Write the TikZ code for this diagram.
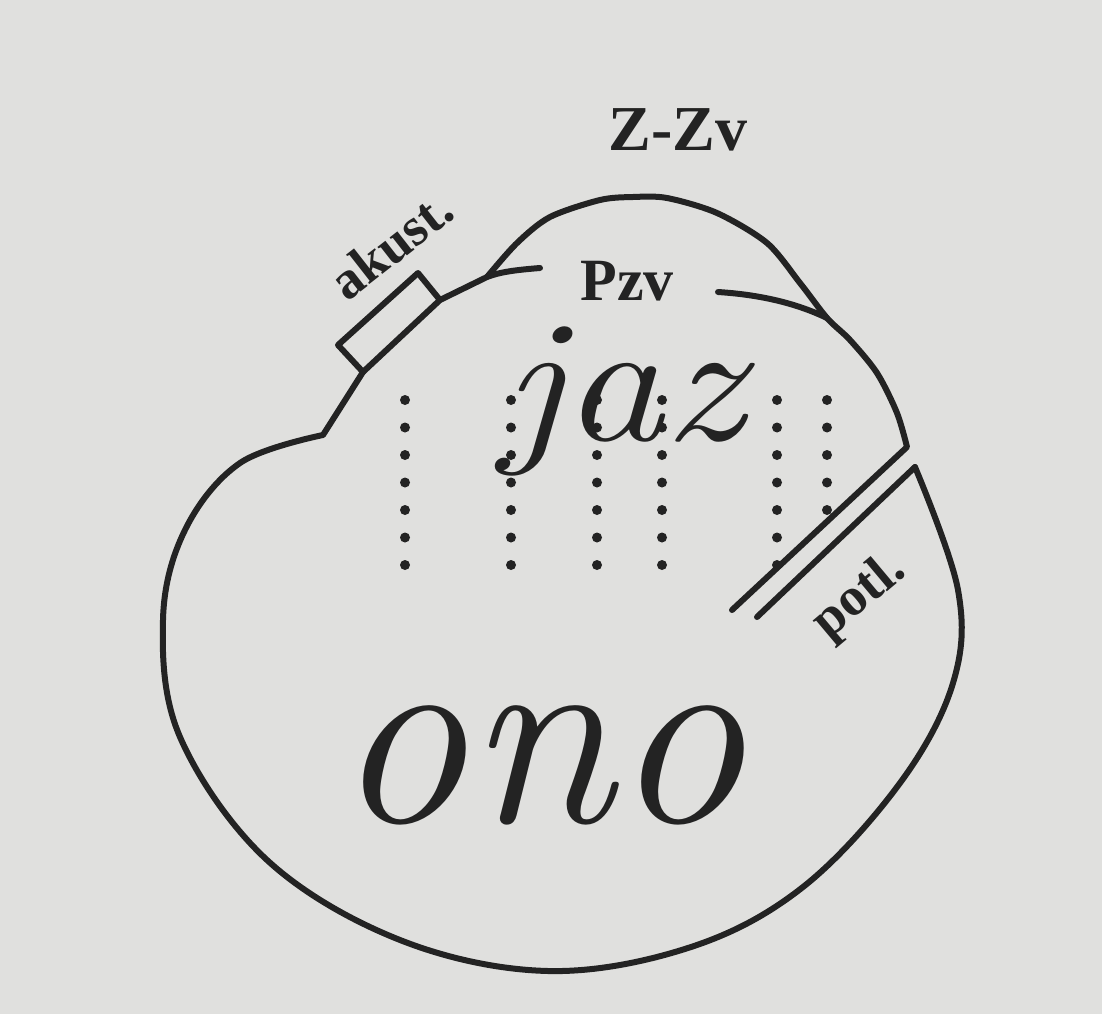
\documentclass[tikz,border=0pt]{standalone}
\usepackage{graphicx}
\usepackage{xcolor}
\usepackage{fontspec}
\newfontfamily\lblfont{Liberation Serif}
\usetikzlibrary{math}
\definecolor{myink}{RGB}{35,35,35}
\definecolor{mypaper}{RGB}{224,224,222}

\begin{document}
\begin{tikzpicture}[x=1pt,y=-1pt,line width=6pt,line cap=round,line join=round,color=myink,
  lbl/.style={inner sep=0pt,font=\lblfont\bfseries\fontsize{54}{54}\selectfont}]
\tikzmath{
\dotr=5;
\dotdy=27.5;
\dotyo=400;
}
\fill[mypaper] (0,0) rectangle (1102,1014);
\useasboundingbox (0,0) rectangle (1102,1014);

%%%%%%%%%% outline, left lobe and bottom
\draw (540,268) .. controls (515,270) and (500,272) .. (487,277) -- (440,300) -- (363,372) -- (323,435)
  -- plot[smooth,tension=0.6] coordinates {(323,435) (240,463) (185,530) (163,620) (180,737) (267,860)
     (400,940) (548,971) (691,947) (803,887) (900,783) (953,683) (958,590) (915,467)};
\draw (915,467) -- (757,617);

%%%%%%%%%% cap Z-Zv
\draw (732,610) -- (907,447)
  -- plot[smooth,tension=0.5] coordinates {(907,447) (897,413) (877,373) (850,340) (827,318) (800,283)
     (767,243) (717,213) (667,198) (633,197) (600,200) (550,217) (517,243) (487,277)};
\draw (718,292) .. controls (765,295) and (800,305) .. (827,318);

%%%%%%%%%% akust. box
\draw (363,372) -- (338,345) -- (418,273) -- (440,300);

%%%%%%%%%% dots
\foreach \x/\n in {405/7,511/7,597/7,662/7,777/7,827/5}
  \foreach \i in {1,...,\n}
    \fill (\x,{\dotyo+(\i-1)*\dotdy}) circle (\dotr pt);

%%%%%%%%%% labels
\node[lbl,anchor=base,font=\lblfont\bfseries\fontsize{64}{64}\selectfont] (zzv) at (678,150) {Z-Zv};
\node[lbl,anchor=base,font=\lblfont\bfseries\fontsize{60}{60}\selectfont] (pzv) at (627,300) {Pzv};
\node[lbl,rotate=38] (akust) at (391,245) {akust.};
\node[lbl,rotate=40] (potl) at (860,597) {potl.};
\node[inner sep=0pt,anchor=base] (jaz) at (623,440)
  {\scalebox{1.15}[1]{\fontsize{175}{175}\selectfont\itshape jaz}};
\node[inner sep=0pt,anchor=base] (ono) at (540,822)
  {\fontsize{265}{265}\selectfont\itshape ono};
\end{tikzpicture}
\end{document}
